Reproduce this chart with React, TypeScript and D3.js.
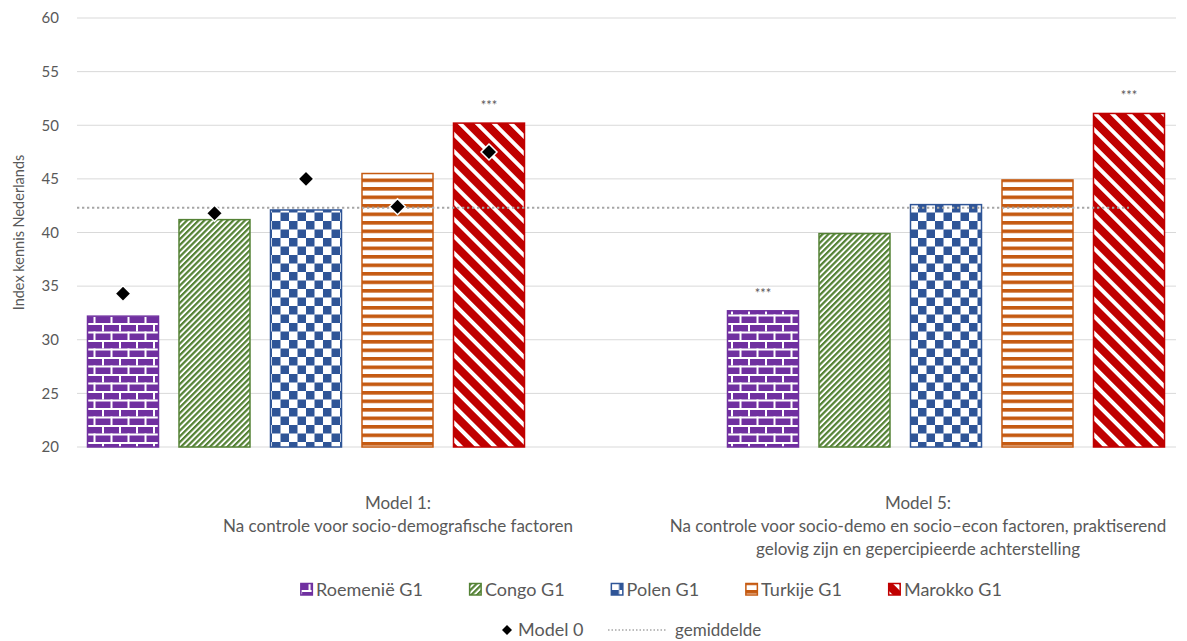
import React from "react";
import * as d3 from "d3";

// ---------- data ----------
const groups = ["Model 1", "Model 5"];
const groupLabelLines: string[][] = [
  ["Model 1:", "Na controle voor socio-demografische factoren"],
  [
    "Model 5:",
    "Na controle voor socio-demo en socio–econ factoren, praktiserend",
    "gelovig zijn en gepercipieerde achterstelling",
  ],
];
const series = ["Roemenië G1", "Congo G1", "Polen G1", "Turkije G1", "Marokko G1"];
const model1Values = [32.2, 41.2, 42.1, 45.5, 50.2];
const model5Values = [32.7, 39.9, 42.6, 44.9, 51.1];
const model0Values = [34.3, 41.8, 45.0, 42.4, 47.5]; // only shown for Model 1
const gemiddelde = 42.3;
const sigModel1 = ["", "", "", "", "***"];
const sigModel5 = ["***", "", "", "", "***"];
const yTicks = [20, 25, 30, 35, 40, 45, 50, 55, 60];
const yTitle = "Index kennis Nederlands";

// ---------- styling ----------
const W = 1187;
const H = 641;
const FONT = "Lato, 'Open Sans', sans-serif";
const TXT = "#595959";
const colors = ["#7030A0", "#548235", "#2F5597", "#C55A11", "#C00000"];
const patIds = ["pBrick", "pUpDiag", "pCheck", "pHoriz", "pDownDiag"];

function measure(text: string, size: number) {
  if (typeof document === "undefined") return text.length * size * 0.5;
  const c = document.createElement("canvas").getContext("2d");
  if (!c) return text.length * size * 0.5;
  c.font = `${size}px Lato`;
  return c.measureText(text).width;
}

export default function App() {
  const plotLeft = 77;
  const plotRight = 1176;
  const y = d3.scaleLinear().domain([20, 60]).range([447, 18]);
  const xGroup = d3.scalePoint<string>().domain(groups).range([306, 946]);
  const xInner = d3
    .scaleBand<string>()
    .domain(series)
    .range([-218.5, 218.5])
    .paddingInner(0.224)
    .paddingOuter(0);
  const bw = xInner.bandwidth();
  const valuesByGroup = [model1Values, model5Values];
  const sigByGroup = [sigModel1, sigModel5];
  const labelCenters = [398, 918];

  const barX = (g: number, s: number) => (xGroup(groups[g]) as number) + (xInner(series[s]) as number);

  // legend layout
  const legSize = 18;
  const sw = 13;
  const txtOff = 16;
  const items = series.map((s) => txtOff + measure(s, legSize));
  const gap = 46;
  const total = d3.sum(items) + gap * (items.length - 1);
  let cur = 651 - total / 2;
  const legX = items.map((w) => {
    const v = cur;
    cur += w + gap;
    return v;
  });

  const avgEndX = barX(1, 4) + bw / 2;

  return (
    <svg
      width={W}
      height={H}
      style={{ position: "absolute", left: 0, top: 0, background: "#fff" }}
      fontFamily={FONT}
    >
      <defs>
        <pattern id="pBrick" patternUnits="userSpaceOnUse" width={17} height={17}>
          <rect width={17} height={17} fill={colors[0]} />
          <rect x={0} y={0} width={17} height={2} fill="#fff" />
          <rect x={0} y={8.5} width={17} height={2} fill="#fff" />
          <rect x={0} y={0} width={2} height={8.5} fill="#fff" />
          <rect x={8.5} y={8.5} width={2} height={8.5} fill="#fff" />
        </pattern>
        <pattern
          id="pUpDiag"
          patternUnits="userSpaceOnUse"
          width={8}
          height={4.1}
          patternTransform="rotate(-45)"
        >
          <rect width={8} height={4.1} fill="#fff" />
          <rect width={8} height={2.2} fill={colors[1]} />
        </pattern>
        <pattern id="pCheck" patternUnits="userSpaceOnUse" width={17} height={17}>
          <rect width={17} height={17} fill="#fff" />
          <rect x={0} y={0} width={8.5} height={8.5} fill={colors[2]} />
          <rect x={8.5} y={8.5} width={8.5} height={8.5} fill={colors[2]} />
        </pattern>
        <pattern id="pHoriz" patternUnits="userSpaceOnUse" width={8} height={8.5}>
          <rect width={8} height={8.5} fill="#fff" />
          <rect width={8} height={3.6} fill={colors[3]} />
        </pattern>
        <pattern
          id="pDownDiag"
          patternUnits="userSpaceOnUse"
          width={12}
          height={12}
          patternTransform="rotate(45)"
        >
          <rect width={12} height={12} fill={colors[4]} />
          <rect width={12} height={4} fill="#fff" />
        </pattern>
      </defs>

      {/* gridlines */}
      {yTicks.map((t) => (
        <g key={t}>
          <line x1={plotLeft} x2={plotRight} y1={y(t)} y2={y(t)} stroke="#D9D9D9" strokeWidth={1} />
          <text x={59} y={y(t)} dy="0.35em" textAnchor="end" fontSize={15} fill={TXT}>
            {t}
          </text>
        </g>
      ))}

      {/* y title */}
      <text
        transform={`translate(24,${(y(20) + y(60)) / 2}) rotate(-90)`}
        textAnchor="middle"
        fontSize={14.5}
        fill={TXT}
      >
        {yTitle}
      </text>

      {/* bars */}
      {valuesByGroup.map((vals, g) =>
        vals.map((v, s) => (
          <rect
            key={`${g}-${s}`}
            x={barX(g, s)}
            y={y(v)}
            width={bw}
            height={y(20) - y(v)}
            fill={`url(#${patIds[s]})`}
            stroke={colors[s]}
            strokeWidth={1.5}
          />
        ))
      )}

      {/* significance */}
      {sigByGroup.map((sig, g) =>
        sig.map((t, s) =>
          t ? (
            <text
              key={`sig-${g}-${s}`}
              x={barX(g, s) + bw / 2}
              y={y(valuesByGroup[g][s]) - 13}
              textAnchor="middle"
              fontSize={13}
              fill={TXT}
            >
              {t}
            </text>
          ) : null
        )
      )}

      {/* gemiddelde line */}
      <line
        x1={plotLeft}
        x2={avgEndX}
        y1={y(gemiddelde)}
        y2={y(gemiddelde)}
        stroke="#A6A6A6"
        strokeWidth={2}
        strokeDasharray="2.3 2.7"
      />

      {/* model 0 diamonds */}
      {model0Values.map((v, s) => {
        const cx = barX(0, s) + bw / 2;
        const cy = y(v);
        const r = 8;
        return (
          <path
            key={`m0-${s}`}
            d={`M${cx},${cy - r}L${cx + r},${cy}L${cx},${cy + r}L${cx - r},${cy}Z`}
            fill="#000"
            stroke="#fff"
            strokeWidth={1.5}
          />
        );
      })}

      {/* category labels */}
      {groupLabelLines.map((lines, g) => (
        <text key={`cl-${g}`} textAnchor="middle" fontSize={17} fill={TXT}>
          {lines.map((l, i) => (
            <tspan key={i} x={labelCenters[g]} y={509 + i * 23}>
              {l}
            </tspan>
          ))}
        </text>
      ))}

      {/* legend row 1 */}
      {series.map((s, i) => (
        <g key={`leg-${s}`} transform={`translate(${legX[i]},590)`}>
          <rect x={0.75} y={-sw / 2} width={sw - 1.5} height={sw - 1.5} fill={`url(#${patIds[i]})`} stroke={colors[i]} strokeWidth={1.5} />
          <text x={txtOff} y={0} dy="0.35em" fontSize={legSize} fill={TXT}>
            {s}
          </text>
        </g>
      ))}

      {/* legend row 2 */}
      <g transform="translate(0,630)">
        <path d="M507,-5L512,0L507,5L502,0Z" fill="#000" />
        <text x={518} y={0} dy="0.35em" fontSize={18} fill={TXT}>
          Model 0
        </text>
        <line x1={608} x2={666} y1={0} y2={0} stroke="#A6A6A6" strokeWidth={1.5} strokeDasharray="1.5 2" />
        <text x={675} y={0} dy="0.35em" fontSize={17} fill={TXT}>
          gemiddelde
        </text>
      </g>
    </svg>
  );
}
